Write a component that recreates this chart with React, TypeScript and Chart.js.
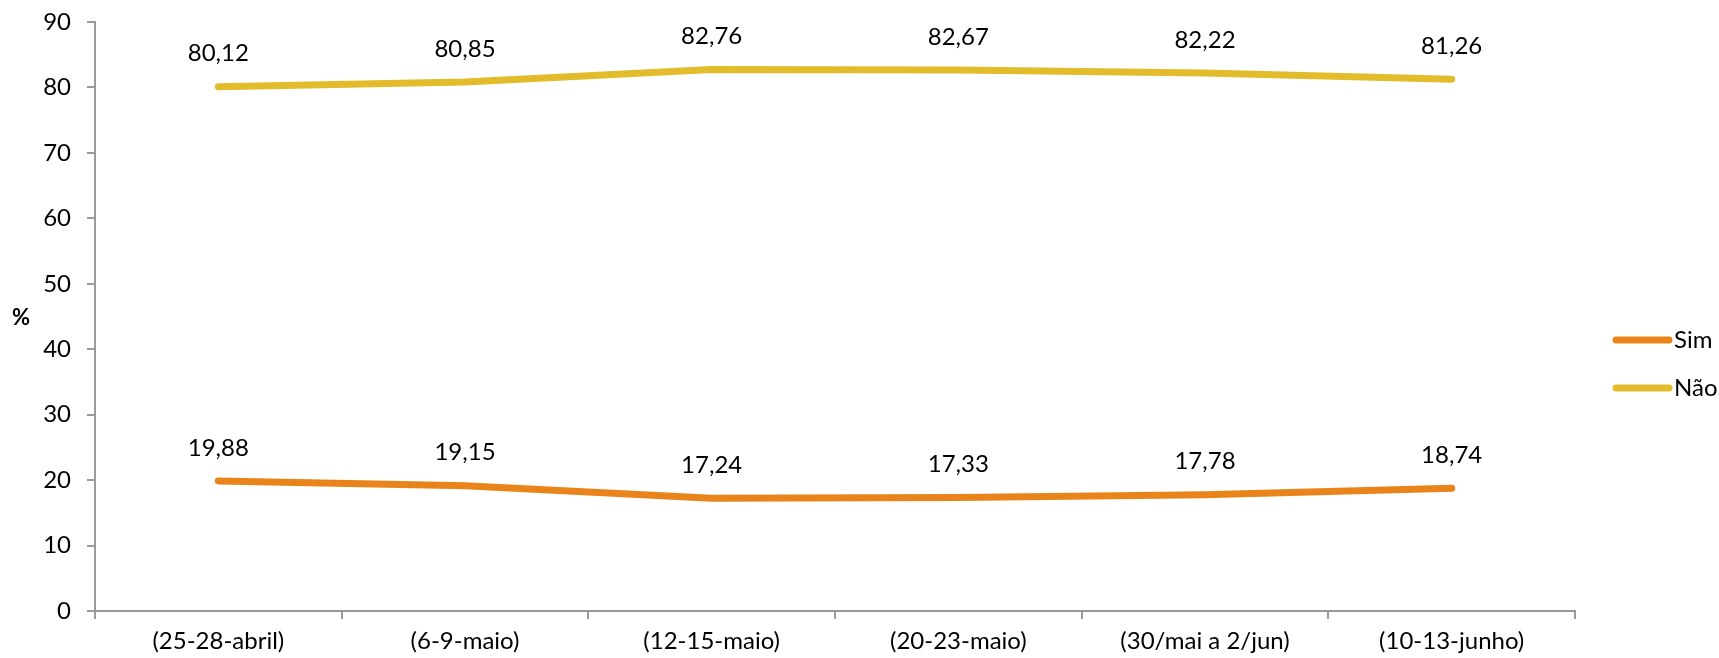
import React, { useEffect, useRef } from "react";
import { Chart, registerables } from "chart.js";

Chart.register(...registerables);

const categories = [
  "(25-28-abril)",
  "(6-9-maio)",
  "(12-15-maio)",
  "(20-23-maio)",
  "(30/mai a 2/jun)",
  "(10-13-junho)",
];
const simValues = [19.88, 19.15, 17.24, 17.33, 17.78, 18.74];
const naoValues = [80.12, 80.85, 82.76, 82.67, 82.22, 81.26];
const seriesNames = ["Sim", "Não"];
const seriesColors = ["#E8841A", "#E3BC2B"];
const yTitle = "%";

const FONT = "Lato, 'Open Sans', sans-serif";

const fmt = (v: number) => v.toFixed(2).replace(".", ",");

const labelsPlugin = {
  id: "valueLabels",
  afterDatasetsDraw(chart: any) {
    const ctx = chart.ctx;
    ctx.save();
    ctx.font = `24px ${FONT}`;
    ctx.fillStyle = "#000";
    ctx.textAlign = "center";
    ctx.textBaseline = "middle";
    chart.data.datasets.forEach((ds: any, i: number) => {
      const meta = chart.getDatasetMeta(i);
      meta.data.forEach((pt: any, j: number) => {
        ctx.fillText(fmt(ds.data[j]), pt.x, pt.y - 33);
      });
    });
    ctx.restore();
  },
};

const extrasPlugin = {
  id: "extras",
  afterDraw(chart: any) {
    const ctx = chart.ctx;
    const area = chart.chartArea;
    ctx.save();
    // y title
    ctx.font = `bold 22px ${FONT}`;
    ctx.fillStyle = "#000";
    ctx.textAlign = "center";
    ctx.textBaseline = "middle";
    ctx.fillText(yTitle, 21, 318);
    // legend
    const x0 = area.right + 38;
    const ys = [340, 388];
    chart.data.datasets.forEach((ds: any, i: number) => {
      const y = ys[i];
      ctx.strokeStyle = ds.borderColor;
      ctx.lineWidth = 7;
      ctx.lineCap = "round";
      ctx.beginPath();
      ctx.moveTo(x0 + 3, y);
      ctx.lineTo(x0 + 56, y);
      ctx.stroke();
      ctx.font = `24px ${FONT}`;
      ctx.fillStyle = "#000";
      ctx.textAlign = "left";
      ctx.textBaseline = "middle";
      ctx.fillText(ds.label, x0 + 61, y);
    });
    ctx.restore();
  },
};

export default function App() {
  const ref = useRef<HTMLCanvasElement>(null);
  useEffect(() => {
    if (!ref.current) return;
    const chart = new Chart(ref.current, {
      type: "line",
      data: {
        labels: categories,
        datasets: [
          {
            label: seriesNames[0],
            data: simValues,
            borderColor: seriesColors[0],
            backgroundColor: seriesColors[0],
            borderWidth: 7,
            pointRadius: 0,
            borderCapStyle: "round",
            borderJoinStyle: "round",
          },
          {
            label: seriesNames[1],
            data: naoValues,
            borderColor: seriesColors[1],
            backgroundColor: seriesColors[1],
            borderWidth: 7,
            pointRadius: 0,
            borderCapStyle: "round",
            borderJoinStyle: "round",
          },
        ],
      },
      options: {
        responsive: false,
        animation: false,
        layout: { padding: { top: 22, right: 144, left: 0, bottom: 0 } },
        plugins: {
          legend: { display: false },
          tooltip: { enabled: false },
        },
        scales: {
          x: {
            offset: true,
            grid: {
              offset: true,
              drawOnChartArea: false,
              drawTicks: true,
              tickLength: 8,
              color: "#9a9a9a",
              lineWidth: 2,
            },
            border: { color: "#9a9a9a", width: 2 },
            ticks: {
              color: "#000",
              font: { family: FONT, size: 24 },
              padding: 8,
              maxRotation: 0,
              autoSkip: false,
            },
            afterFit(scale: any) {
              scale.height = 47;
              scale.paddingLeft = 0;
              scale.paddingRight = 0;
            },
          },
          y: {
            min: 0,
            max: 90,
            grid: {
              drawOnChartArea: false,
              drawTicks: true,
              tickLength: 8,
              color: "#9a9a9a",
              lineWidth: 2,
            },
            border: { color: "#9a9a9a", width: 2 },
            ticks: {
              stepSize: 10,
              color: "#000",
              font: { family: FONT, size: 24 },
              padding: 16,
            },
            afterFit(scale: any) {
              scale.width = 95;
              scale.paddingTop = 0;
              scale.paddingBottom = 0;
            },
          },
        },
      },
      plugins: [labelsPlugin, extrasPlugin],
    } as any);
    return () => chart.destroy();
  }, []);
  return (
    <div style={{ position: "absolute", left: 0, top: 0, width: 1719, height: 658 }}>
      <canvas ref={ref} width={1719} height={658} style={{ display: "block" }} />
    </div>
  );
}
